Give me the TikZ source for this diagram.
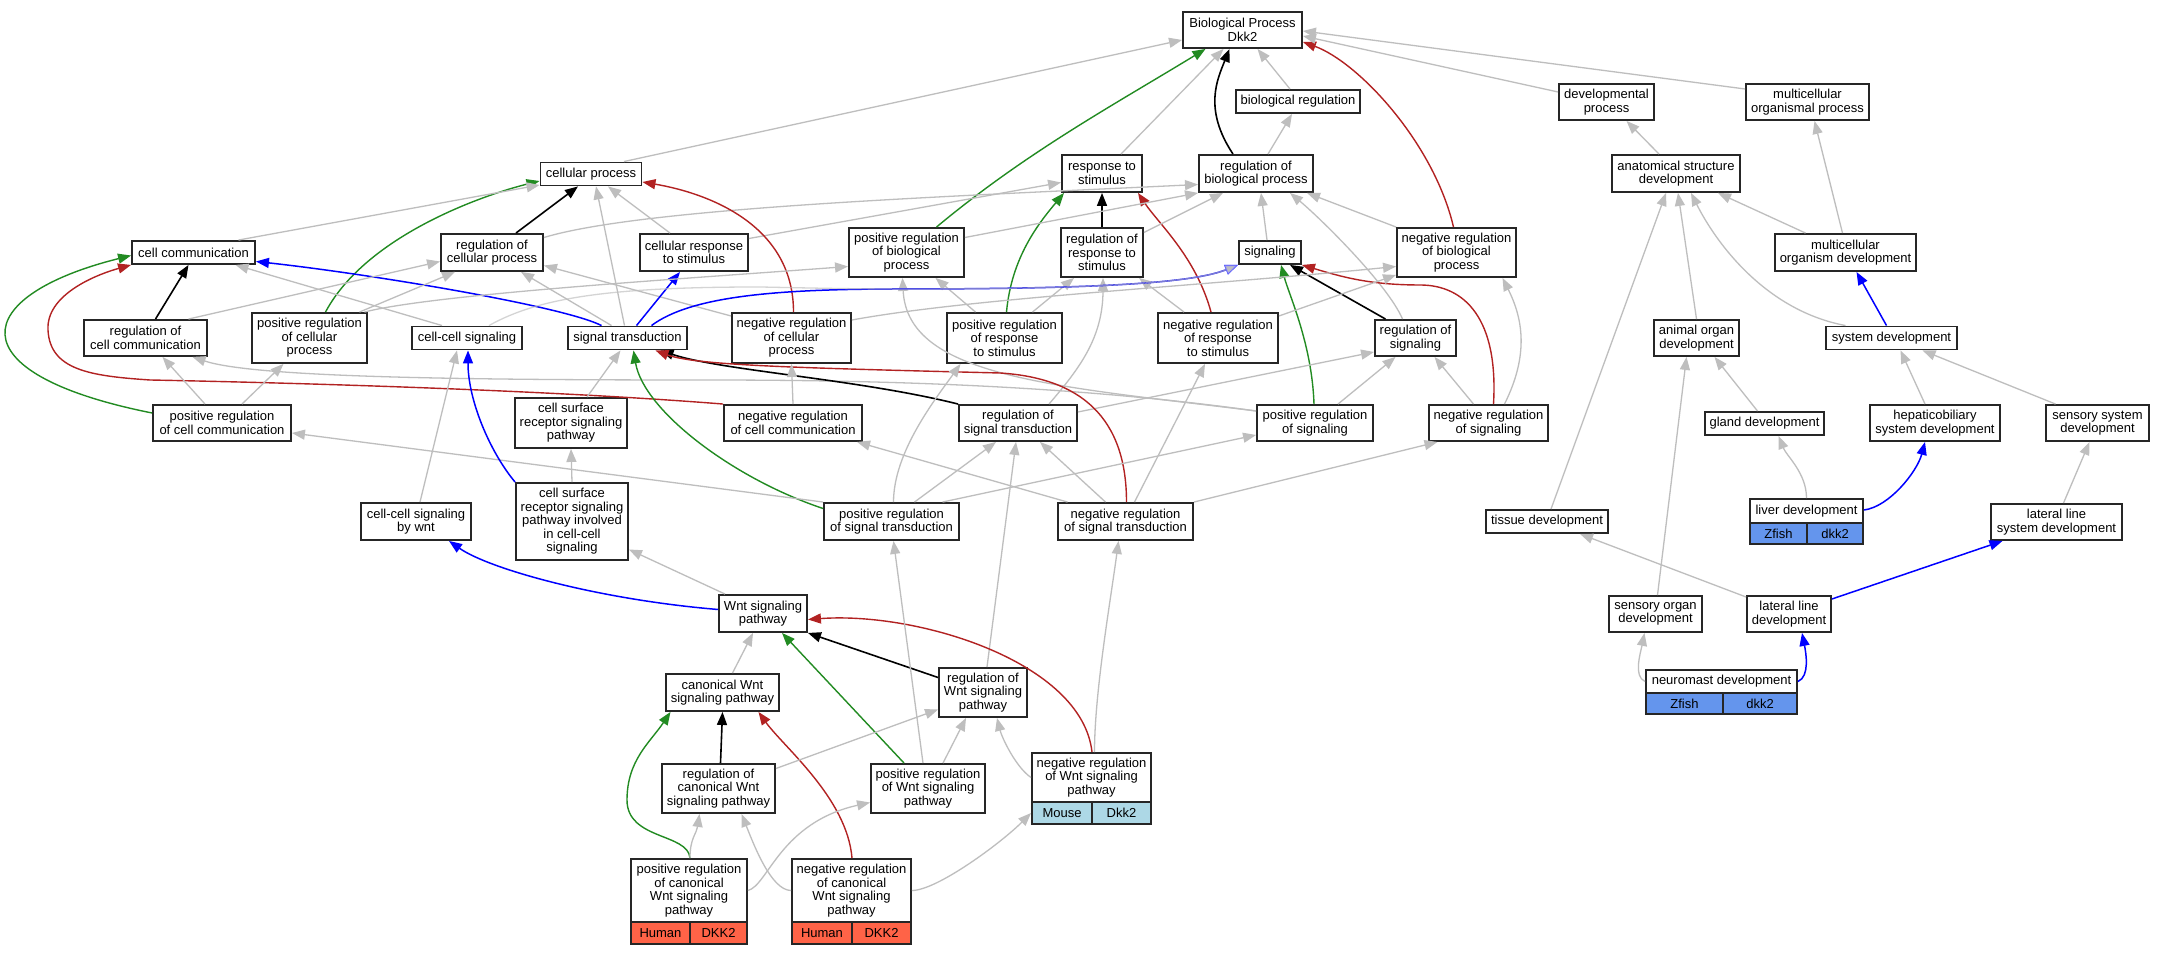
\documentclass[tikz,border=0pt]{standalone}
\usepackage{fontspec}
\setmainfont{Liberation Sans}
\usetikzlibrary{arrows.meta}
\definecolor{ggray}{HTML}{BEBEBE}
\definecolor{ggreen}{HTML}{228B22}
\definecolor{gred}{HTML}{B22222}
\definecolor{gblue}{HTML}{0000FF}
\definecolor{tomatoc}{HTML}{FF6347}
\definecolor{lblue}{HTML}{ADD8E6}
\definecolor{cfblue}{HTML}{6495ED}
\tikzset{
  box/.style={draw=black!85, line width=1.9pt, fill=white, inner sep=0pt, align=center, font=\fontsize{13}{13.5}\selectfont},
  tip/.style={-{Triangle[length=13pt,width=10pt]}},
  ge/.style={draw=ggray, line width=1.3pt, tip},
  bke/.style={draw=black, line width=1.6pt, tip},
  ble/.style={draw=gblue, line width=1.5pt, tip},
  gre/.style={draw=ggreen, line width=1.4pt, tip},
  rde/.style={draw=gred, line width=1.4pt, tip}
}
\begin{document}
\begin{tikzpicture}[x=1pt,y=1pt]
\useasboundingbox[fill=white] (0,0) rectangle (2166,955);
% ---------- nodes ----------
\node[box,minimum width=119pt,minimum height=36pt] (BP) at (1242.5,925) {Biological Process\\Dkk2};
\node[box,minimum width=124pt,minimum height=23pt] (breg) at (1298,853.5) {biological regulation};
\node[box,minimum width=80pt,minimum height=37pt] (resp) at (1102,781.5) {response to\\stimulus};
\node[box,minimum width=114pt,minimum height=37pt] (regbio) at (1256,781.5) {regulation of\\biological process};
\node[box,minimum width=115pt,minimum height=49pt] (posregbio) at (906.5,702.5) {positive regulation\\of biological\\process};
\node[box,minimum width=82pt,minimum height=49pt] (regresp) at (1102,702.5) {regulation of\\response to\\stimulus};
\node[box,minimum width=62pt,minimum height=23pt] (signaling) at (1270,702.5) {signaling};
\node[box,minimum width=119pt,minimum height=49pt] (negregbio) at (1456.5,702.5) {negative regulation\\of biological\\process};
\node[box,minimum width=101pt,minimum height=23pt] (cp) at (591,781) {cellular process};
\node[box,minimum width=123pt,minimum height=23pt] (cc) at (193.5,702.5) {cell communication};
\node[box,minimum width=102pt,minimum height=37pt] (regcell) at (492,702.5) {regulation of\\cellular process};
\node[box,minimum width=108pt,minimum height=37pt] (cresp) at (694,702.5) {cellular response\\to stimulus};
\node[box,minimum width=123pt,minimum height=36pt] (regcc) at (145.5,617) {regulation of\\cell communication};
\node[box,minimum width=115pt,minimum height=50pt] (posregcell) at (309.5,617) {positive regulation\\of cellular\\process};
\node[box,minimum width=110pt,minimum height=23pt] (ccs) at (467,617) {cell-cell signaling};
\node[box,minimum width=119pt,minimum height=23pt] (st) at (627.5,617) {signal transduction};
\node[box,minimum width=119pt,minimum height=50pt] (negregcell) at (791.5,617) {negative regulation\\of cellular\\process};
\node[box,minimum width=115pt,minimum height=50pt] (posregresp) at (1004.5,617) {positive regulation\\of response\\to stimulus};
\node[box,minimum width=120pt,minimum height=50pt] (negregresp) at (1218,617) {negative regulation\\of response\\to stimulus};
\node[box,minimum width=81pt,minimum height=36pt] (regsig) at (1415.5,617) {regulation of\\signaling};
\node[box,minimum width=138pt,minimum height=36pt] (posregcc) at (222,532) {positive regulation\\of cell communication};
\node[box,minimum width=112pt,minimum height=50pt] (csrsp) at (571,532) {cell surface\\receptor signaling\\pathway};
\node[box,minimum width=138pt,minimum height=36pt] (negregcc) at (793,532) {negative regulation\\of cell communication};
\node[box,minimum width=118pt,minimum height=36pt] (regst) at (1018,532) {regulation of\\signal transduction};
\node[box,minimum width=116pt,minimum height=36pt] (posregsig) at (1315,532) {positive regulation\\of signaling};
\node[box,minimum width=119pt,minimum height=36pt] (negregsig) at (1488.5,532) {negative regulation\\of signaling};
\node[box,minimum width=95pt,minimum height=36pt] (devp) at (1606.5,853) {developmental\\process};
\node[box,minimum width=123pt,minimum height=36pt] (mop) at (1807.5,853) {multicellular\\organismal process};
\node[box,minimum width=128pt,minimum height=37pt] (asd) at (1676,781.5) {anatomical structure\\development};
\node[box,minimum width=141pt,minimum height=37pt] (mod) at (1845.5,702.5) {multicellular\\organism development};
\node[box,minimum width=85pt,minimum height=36pt] (aod) at (1696.5,617) {animal organ\\development};
\node[box,minimum width=131pt,minimum height=23pt] (sysd) at (1891.5,617) {system development};
\node[box,minimum width=119pt,minimum height=23pt] (gland) at (1764.5,531.5) {gland development};
\node[box,minimum width=130pt,minimum height=36pt] (hep) at (1935,532) {hepaticobiliary\\system development};
\node[box,minimum width=103pt,minimum height=36pt] (ssd) at (2097.5,532) {sensory system\\development};
\node[box,minimum width=110pt,minimum height=37pt] (cswnt) at (416,433.5) {cell-cell signaling\\by wnt};
\node[box,minimum width=112pt,minimum height=77pt] (csrspi) at (572,433.5) {cell surface\\receptor signaling\\pathway involved\\in cell-cell\\signaling};
\node[box,minimum width=135pt,minimum height=37pt] (posregst) at (891.5,433.5) {positive regulation\\of signal transduction};
\node[box,minimum width=135pt,minimum height=37pt] (negregst) at (1125.5,433.5) {negative regulation\\of signal transduction};
\node[box,minimum width=122pt,minimum height=23pt] (tissue) at (1547,433.5) {tissue development};
\node[box,minimum width=131pt,minimum height=36pt] (llsd) at (2056.5,433) {lateral line\\system development};
\node[box,minimum width=88pt,minimum height=37pt] (wnt) at (763,341.5) {Wnt signaling\\pathway};
\node[box,minimum width=93pt,minimum height=36pt] (sod) at (1655.5,341) {sensory organ\\development};
\node[box,minimum width=84pt,minimum height=36pt] (lld) at (1789,341) {lateral line\\development};
\node[box,minimum width=113pt,minimum height=37pt] (canon) at (722.5,262.5) {canonical Wnt\\signaling pathway};
\node[box,minimum width=88pt,minimum height=49pt] (regwnt) at (983,262.5) {regulation of\\Wnt signaling\\pathway};
\node[box,minimum width=113pt,minimum height=49pt] (regcanon) at (718.5,166.5) {regulation of\\canonical Wnt\\signaling pathway};
\node[box,minimum width=114pt,minimum height=49pt] (posregwnt) at (928,166.5) {positive regulation\\of Wnt signaling\\pathway};
\node[box,minimum width=119pt,minimum height=49pt] (negregwnt) at (1091.5,177.5) {negative regulation\\of Wnt signaling\\pathway};
\node[box,fill=lblue,minimum width=60pt,minimum height=22pt] (nwA) at (1062,142) {Mouse};
\node[box,fill=lblue,minimum width=59pt,minimum height=22pt] (nwB) at (1121.5,142) {Dkk2};
\node[box,minimum width=116pt,minimum height=63pt] (pcw) at (689,64.5) {positive regulation\\of canonical\\Wnt signaling\\pathway};
\node[box,fill=tomatoc,minimum width=59pt,minimum height=22pt] (pcwA) at (660.5,22) {Human};
\node[box,fill=tomatoc,minimum width=57pt,minimum height=22pt] (pcwB) at (718.5,22) {DKK2};
\node[box,minimum width=119pt,minimum height=63pt] (ncw) at (851.5,64.5) {negative regulation\\of canonical\\Wnt signaling\\pathway};
\node[box,fill=tomatoc,minimum width=60pt,minimum height=22pt] (ncwA) at (822,22) {Human};
\node[box,fill=tomatoc,minimum width=59pt,minimum height=22pt] (ncwB) at (881.5,22) {DKK2};
\node[box,minimum width=113pt,minimum height=24pt] (liver) at (1806.5,444) {liver development};
\node[box,fill=cfblue,minimum width=57pt,minimum height=21pt] (livA) at (1778.5,421.5) {Zfish};
\node[box,fill=cfblue,minimum width=56pt,minimum height=21pt] (livB) at (1835,421.5) {dkk2};
\node[box,minimum width=151pt,minimum height=23pt] (neuro) at (1721.5,273.5) {neuromast development};
\node[box,fill=cfblue,minimum width=77pt,minimum height=21pt] (neuA) at (1684.5,251.5) {Zfish};
\node[box,fill=cfblue,minimum width=74pt,minimum height=21pt] (neuB) at (1760,251.5) {dkk2};
% ---------- edges to Biological Process ----------
\draw[ge] ([xshift=33pt]cp.north) -- ([yshift=-10pt]BP.west);
\draw[gre] ([xshift=30pt]posregbio.north) .. controls +(90,75) and +(-90,-55) .. ([xshift=-37pt]BP.south);
\draw[ge] ([xshift=19pt]resp.north) -- ([xshift=-19pt]BP.south);
\draw[bke] ([xshift=-23pt]regbio.north) .. controls +(-30,45) and +(-12,-30) .. ([xshift=-13pt]BP.south);
\draw[ge] ([xshift=-8pt]breg.north) -- ([xshift=15pt]BP.south);
\draw[rde] ([xshift=-3pt]negregbio.north) .. controls +(-20,85) and +(55,-20) .. ([yshift=-12pt]BP.east);
\draw[ge] ([yshift=10pt]devp.west) -- ([yshift=-6pt]BP.east);
\draw[ge] ([yshift=13pt]mop.west) -- ([yshift=-1pt]BP.east);
\draw[ge] ([xshift=12pt]regbio.north) -- ([xshift=-6pt]breg.south);
% ---------- response / regulation of biological process ----------
\draw[ge] ([yshift=14pt]cresp.east) -- ([yshift=-9pt]resp.west);
\draw[bke] (regresp.north) -- (resp.south);
\draw[gre] ([xshift=2pt]posregresp.north) .. controls +(5,55) and +(-25,-30) .. ([xshift=-38pt]resp.south);
\draw[rde] ([xshift=-7pt]negregresp.north) .. controls +(-15,55) and +(20,-30) .. ([xshift=36pt]resp.south);
\draw[ge] ([yshift=15pt]regcell.east) .. controls +(100,30) and +(-250,-12) .. ([yshift=-11pt]regbio.west);
\draw[ge] ([yshift=15pt]posregbio.east) -- (regbio.south west);
\draw[ge] ([yshift=20pt]regresp.east) -- ([xshift=-33pt]regbio.south);
\draw[ge] ([xshift=-3pt]signaling.north) -- ([xshift=5pt]regbio.south);
\draw[ge] ([xshift=-13pt]regsig.north) .. controls +(-15,35) and +(30,-25) .. ([xshift=34pt]regbio.south);
\draw[ge] (negregbio.north west) -- ([xshift=51pt]regbio.south);
% ---------- cellular process ----------
\draw[bke] ([xshift=24pt]regcell.north) -- ([xshift=-13pt]cp.south);
\draw[gre] ([xshift=16pt]posregcell.north) .. controls +(40,75) and +(-60,-15) .. ([yshift=-7pt]cp.west);
\draw[ge] ([xshift=-3pt]st.north) -- ([xshift=5pt]cp.south);
\draw[ge] ([xshift=-24pt]cresp.north) -- ([xshift=17pt]cp.south);
\draw[rde] ([xshift=2pt]negregcell.north) .. controls +(0,85) and +(70,-12) .. ([yshift=-8pt]cp.east);
\draw[ge] ([xshift=45pt]cc.north) -- ([yshift=-11pt]cp.west);
% ---------- cell communication ----------
\draw[bke] ([xshift=10pt]regcc.north) -- ([xshift=-5pt]cc.south);
\draw[gre] ([yshift=10pt]posregcc.west) .. controls +(-200,40) and +(-160,-40) .. ([yshift=-3pt]cc.west);
\draw[rde] (negregcc.north west) .. controls +(-150,12) and +(200,-4) .. (150,575) .. controls (90,579) and (50,585) .. (48,625) .. controls (46,660) and (95,680) .. (cc.south west);
\draw[ble] ([xshift=-26pt]st.north) .. controls +(-40,20) and +(110,-12) .. ([yshift=-9pt]cc.east);
\draw[ge] ([xshift=-25pt]ccs.north) -- ([xshift=42pt]cc.south);
% ---------- regulation of cellular process etc ----------
\draw[ge] ([xshift=43pt]regcc.north) -- ([yshift=-9pt]regcell.west);
\draw[ge] ([xshift=50pt]posregcell.north) -- ([xshift=-37pt]regcell.south);
\draw[ge] ([xshift=-16pt]st.north) -- ([xshift=29pt]regcell.south);
\draw[ge] ([yshift=22pt]negregcell.west) -- ([yshift=-13pt]regcell.east);
\draw[ble] ([xshift=9pt]st.north) -- ([xshift=-14pt]cresp.south);
\draw[ge] ([xshift=55pt]posregcell.north) .. controls +(70,18) and +(-160,-12) .. ([yshift=-14pt]posregbio.west);
\draw[ge] ([xshift=-29pt]posregresp.north) -- ([xshift=29pt]posregbio.south);
\draw[ge] ([yshift=12pt]posregsig.west) .. controls +(-200,25) and +(5,-100) .. ([xshift=-4pt]posregbio.south);
\draw[ge] ([yshift=12pt]posregsig.west) .. controls +(-200,28) and +(150,0) .. (700,575) .. controls +(-250,0) and +(60,-20) .. ([xshift=47pt]regcc.south);
\draw[ge] ([xshift=31pt]regst.north) .. controls +(30,35) and +(0,-60) .. ([xshift=1pt]regresp.south);
\draw[ge] ([xshift=28pt]posregresp.north) -- ([xshift=-28pt]regresp.south);
\draw[ge] ([xshift=-34pt]negregresp.north) -- ([xshift=37pt]regresp.south);
% ---------- signaling ----------
\draw[ble] ([xshift=24pt]st.north) .. controls +(40,30) and +(-120,0) .. (900,666) .. controls +(200,0) and +(-45,-18) .. (signaling.south west);
\draw[draw=ggray, line width=1.3pt, draw opacity=0.65, -{Triangle[length=13pt,width=10pt,fill=ggray,color=gblue!45]}] ([xshift=22pt]ccs.north) .. controls +(50,28) and +(-150,0) .. (760,668) .. controls +(50,-1) and +(-50,0) .. (900,666) .. controls +(200,0) and +(-45,-18) .. (signaling.south west);
\draw[gre] ([xshift=-1pt]posregsig.north) .. controls +(-2,60) and +(8,-30) .. ([xshift=11pt]signaling.south);
\draw[bke] ([xshift=-30pt]regsig.north) -- ([xshift=20pt]signaling.south);
\draw[rde] ([xshift=5pt]negregsig.north) .. controls +(5,85) and +(45,0) .. (1420,670) .. controls +(-50,0) and +(40,-12) .. (signaling.south east);
% ---------- negative regulation of biological process ----------
\draw[ge] ([yshift=18pt]negregcell.east) .. controls +(120,22) and +(-200,-20) .. ([yshift=-14pt]negregbio.west);
\draw[ge] ([yshift=22pt]negregresp.east) -- ([yshift=3pt]negregbio.south west);
\draw[ge] ([xshift=16pt]negregsig.north) .. controls +(25,50) and +(20,-40) .. ([xshift=46pt]negregbio.south);
% ---------- regulation of signaling ----------
\draw[ge] ([yshift=11pt]regst.east) -- ([yshift=-14pt]regsig.west);
\draw[ge] ([xshift=23pt]posregsig.north) -- ([xshift=-20pt]regsig.south);
\draw[ge] ([xshift=-15pt]negregsig.north) -- ([xshift=19pt]regsig.south);
% ---------- signal transduction ----------
\draw[bke] (regst.north west) .. controls +(-100,25) and +(60,-20) .. ([xshift=33pt]st.south);
\draw[gre] ([yshift=13pt]posregst.west) .. controls +(-90,30) and +(10,-60) .. ([xshift=6pt]st.south);
\draw[rde] ([xshift=1pt]negregst.north) .. controls +(0,85) and +(80,-5) .. (1000,582) .. controls +(-200,5) and +(40,-15) .. ([xshift=28pt]st.south);
\draw[ge] ([xshift=16pt]csrsp.north) -- ([xshift=-7pt]st.south);
% ---------- cell communication regulation ----------
\draw[ge] (negregcc.north) -- (negregcell.south);
\draw[ge] ([xshift=-17pt]posregcc.north) -- ([xshift=17pt]regcc.south);
\draw[ge] ([xshift=20pt]posregcc.north) -- ([xshift=-26pt]posregcell.south);
\draw[ge] (posregst.north west) -- ([yshift=-10pt]posregcc.east);
\draw[ge] ([xshift=-58pt]negregst.north) -- ([xshift=64pt]negregcc.south);
\draw[ge] ([xshift=23pt]posregst.north) -- ([xshift=-22pt]regst.south);
\draw[ge] ([xshift=4pt]regwnt.north) -- ([xshift=-2pt]regst.south);
\draw[ge] ([xshift=-20pt]negregst.north) -- ([xshift=22pt]regst.south);
\draw[ge] ([xshift=51pt]posregst.north) -- ([yshift=-12pt]posregsig.west);
\draw[ge] (negregst.north east) -- ([xshift=-51pt]negregsig.south);
\draw[ge] ([xshift=9pt]negregst.north) -- ([xshift=-13pt]negregresp.south);
\draw[ge] ([xshift=2pt]posregst.north) .. controls +(0,50) and +(-25,-35) .. ([xshift=-44pt]posregresp.south);
% ---------- cell-cell signaling ----------
\draw[ble] (csrspi.north west) .. controls +(-25,30) and +(0,-50) .. ([xshift=1pt]ccs.south);
\draw[ge] ([xshift=4pt]cswnt.north) -- ([xshift=-10pt]ccs.south);
\draw[ge] (csrspi.north) -- (csrsp.south);
% ---------- Wnt ----------
\draw[ble] ([yshift=4pt]wnt.west) .. controls +(-120,10) and +(40,-28) .. ([xshift=33pt]cswnt.south);
\draw[ge] ([xshift=-38pt]wnt.north) -- ([yshift=-28pt]csrspi.east);
\draw[ge] ([xshift=10pt]canon.north) -- ([xshift=-10pt]wnt.south);
\draw[gre] ([xshift=-24pt]posregwnt.north) -- ([xshift=19pt]wnt.south);
\draw[bke] ([yshift=15pt]regwnt.west) -- (wnt.south east);
\draw[rde] ([xshift=0.5pt]negregwnt.north) .. controls +(-10,90) and +(110,8) .. ([yshift=-6pt]wnt.east);
\draw[bke] ([xshift=2pt]regcanon.north) -- (canon.south);
\draw[gre] ([xshift=1pt]pcw.north) .. controls +(-2,25) and +(0,-40) .. (627,155) .. controls +(0,40) and +(-20,-30) .. ([xshift=-52pt]canon.south);
\draw[rde] ([xshift=0.5pt]ncw.north) .. controls +(-5,60) and +(25,-35) .. ([xshift=36pt]canon.south);
\draw[ge] ([yshift=20pt]regcanon.east) -- ([yshift=-17pt]regwnt.west);
\draw[ge] ([xshift=15pt]posregwnt.north) -- ([xshift=-17pt]regwnt.south);
\draw[ge] (negregwnt.west) .. controls +(-15,10) and +(5,-20) .. ([xshift=14pt]regwnt.south);
\draw[ge] ([xshift=-5pt]posregwnt.north) -- ([xshift=2pt]posregst.south);
\draw[ge] ([xshift=3pt]negregwnt.north) .. controls +(0,60) and +(-8,-60) .. ([xshift=-7pt]negregst.south);
\draw[ge] ([xshift=1pt]pcw.north) .. controls +(0,20) and +(-3,-20) .. ([xshift=-19pt]regcanon.south);
\draw[ge] (ncw.west) .. controls +(-20,0) and +(12,-30) .. ([xshift=23pt]regcanon.south);
\draw[ge] (pcw.east) .. controls +(20,5) and +(-90,-20) .. ([yshift=-14pt]posregwnt.west);
\draw[ge] (ncw.east) .. controls +(25,0) and +(-30,-30) .. (nwA.west);
% ---------- development branch ----------
\draw[ge] ([xshift=-17pt]asd.north) -- ([xshift=20pt]devp.south);
\draw[ge] ([xshift=-3pt]mod.north) -- ([xshift=7pt]mop.south);
\draw[ge] ([xshift=-40pt]mod.north) -- ([xshift=42pt]asd.south);
\draw[ble] ([xshift=-5pt]sysd.north) -- ([xshift=11pt]mod.south);
\draw[ge] ([xshift=-46pt]sysd.north) .. controls +(-80,15) and +(25,-50) .. ([xshift=15pt]asd.south);
\draw[ge] (aod.north) -- ([xshift=2pt]asd.south);
\draw[ge] ([xshift=4pt]tissue.north) -- ([xshift=-10pt]asd.south);
\draw[ge] ([xshift=-7pt]gland.north) -- ([xshift=18pt]aod.south);
\draw[ge] ([xshift=2pt]sod.north) -- ([xshift=-10pt]aod.south);
\draw[ge] ([xshift=-10pt]hep.north) -- ([xshift=9pt]sysd.south);
\draw[ge] ([xshift=-42pt]ssd.north) -- ([xshift=31pt]sysd.south);
\draw[ge] (liver.north) .. controls +(0,25) and +(8,-20) .. ([xshift=14pt]gland.south);
\draw[ble] ([yshift=1pt]liver.east) .. controls +(25,3) and +(-8,-30) .. ([xshift=-10pt]hep.south);
\draw[ge] ([xshift=7pt]llsd.north) -- ([xshift=-8pt]ssd.south);
\draw[ge] ([yshift=17pt]lld.west) -- ([xshift=33pt]tissue.south);
\draw[ble] ([yshift=15pt]lld.east) -- ([xshift=-54pt]llsd.south);
\draw[ge] (neuro.west) .. controls +(-12,5) and +(-4,-20) .. ([xshift=-11pt]sod.south);
\draw[ble] (neuro.east) .. controls +(12,5) and +(4,-20) .. ([xshift=13pt]lld.south);
\end{tikzpicture}
\end{document}
